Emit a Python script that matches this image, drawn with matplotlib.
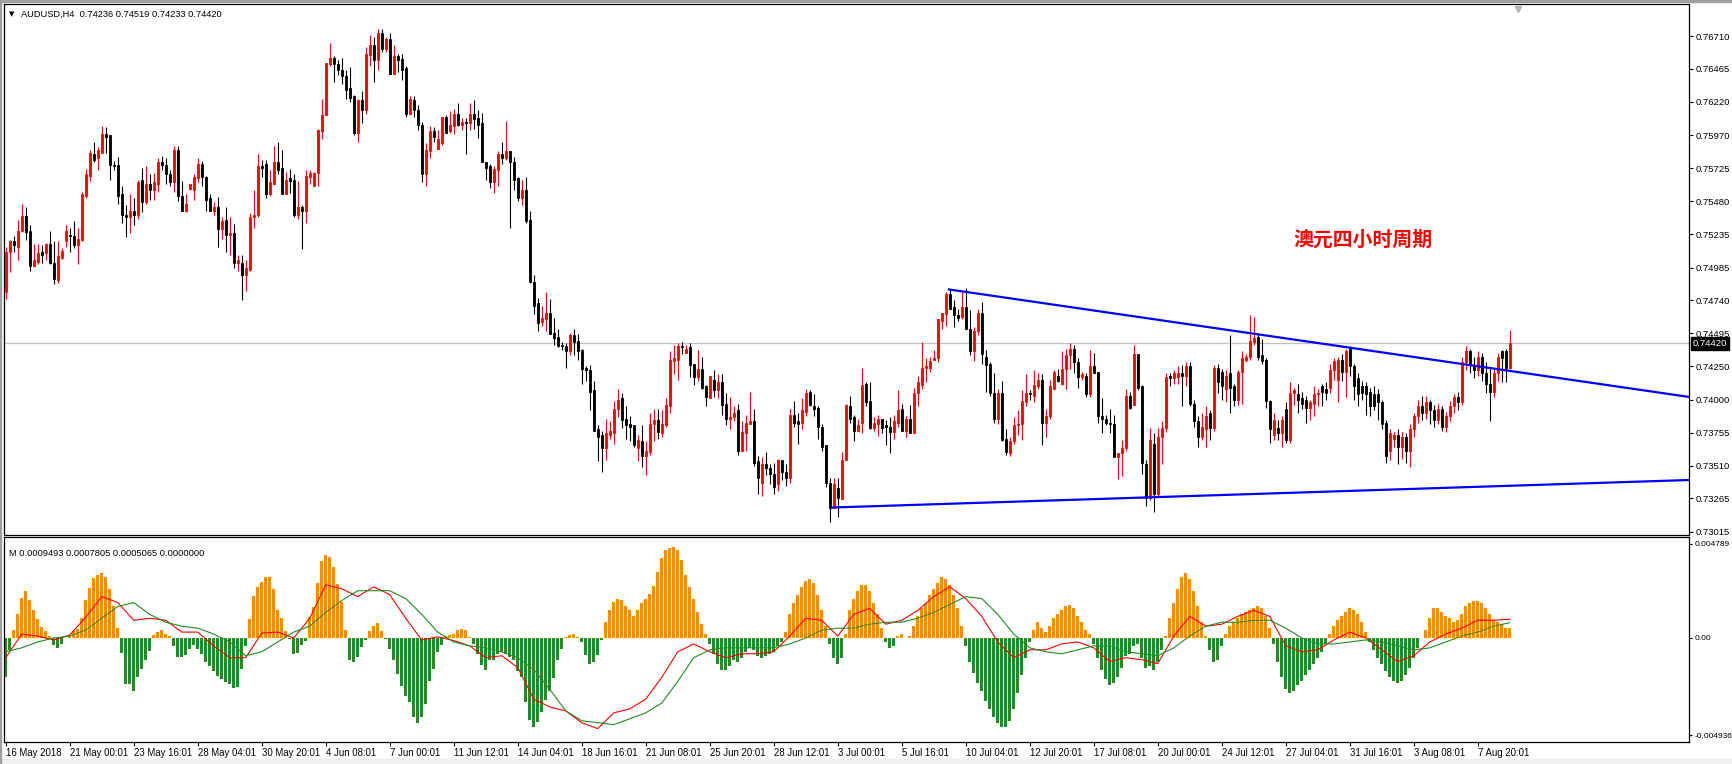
import numpy as np
import matplotlib.pyplot as plt
import matplotlib.transforms as mtransforms
from matplotlib.patches import Rectangle

plt.rcParams['font.family'] = ['Liberation Sans', 'DejaVu Sans']

symbol = "AUDUSD,H4"
last_bar_text = "0.74236 0.74519 0.74233 0.74420"
macd_header = "M 0.0009493 0.0007805 0.0005065 0.0000000"
note = "澳元四小时周期"

# AUDUSD H4 candles, prices in pips (x 0.0001)
opens = [
    7480, 7510, 7518, 7514, 7526, 7537, 7526, 7500, 7503, 7510,
    7509, 7516, 7502, 7489, 7506, 7518, 7523, 7522, 7515, 7519,
    7552, 7567, 7583, 7580, 7584, 7598, 7597, 7575, 7575, 7553,
    7538, 7536, 7541, 7538, 7564, 7547, 7561, 7556, 7561, 7577,
    7575, 7568, 7562, 7586, 7552, 7541, 7557, 7556, 7565, 7576,
    7566, 7550, 7541, 7544, 7527, 7534, 7523, 7524, 7502, 7502,
    7493, 7497, 7536, 7538, 7574, 7576, 7553, 7561, 7577, 7573,
    7553, 7565, 7564, 7538, 7544, 7541, 7566, 7559, 7569, 7600,
    7612, 7650, 7655, 7650, 7646, 7641, 7632, 7626, 7599, 7623,
    7616, 7657, 7664, 7653, 7673, 7661, 7669, 7643, 7656, 7654,
    7647, 7613, 7623, 7616, 7605, 7568, 7585, 7600, 7587, 7591,
    7611, 7600, 7604, 7613, 7605, 7607, 7606, 7613, 7610, 7606,
    7577, 7574, 7562, 7571, 7583, 7580, 7585, 7577, 7565, 7550,
    7556, 7534, 7488, 7472, 7458, 7460, 7465, 7450, 7447, 7441,
    7440, 7436, 7448, 7444, 7437, 7424, 7422, 7407, 7378, 7374,
    7364, 7374, 7375, 7393, 7401, 7386, 7382, 7381, 7364, 7369,
    7358, 7361, 7382, 7385, 7375, 7381, 7395, 7429, 7430, 7440,
    7435, 7439, 7427, 7417, 7423, 7410, 7401, 7415, 7407, 7413,
    7397, 7386, 7387, 7392, 7362, 7375, 7382, 7384, 7354, 7338,
    7352, 7349, 7345, 7337, 7355, 7346, 7342, 7389, 7384, 7383,
    7391, 7406, 7395, 7394, 7380, 7366, 7338, 7319, 7334, 7326,
    7355, 7395, 7387, 7377, 7383, 7412, 7399, 7379, 7382, 7386,
    7381, 7380, 7376, 7383, 7393, 7377, 7386, 7375, 7405, 7411,
    7424, 7424, 7430, 7431, 7459, 7464, 7479, 7469, 7463, 7462,
    7469, 7453, 7436, 7451, 7465, 7432, 7427, 7405, 7386, 7405,
    7371, 7360, 7369, 7381, 7382, 7398, 7405, 7403, 7410, 7415,
    7383, 7388, 7408, 7418, 7412, 7423, 7433, 7438, 7428, 7417,
    7418, 7404, 7425, 7421, 7388, 7386, 7383, 7382, 7357, 7360,
    7364, 7403, 7396, 7434, 7410, 7352, 7327, 7367, 7330, 7372,
    7379, 7418, 7416, 7417, 7420, 7418, 7425, 7397, 7384, 7372,
    7378, 7390, 7379, 7424, 7421, 7408, 7420, 7410, 7400, 7421,
    7430, 7432, 7443, 7447, 7433, 7430, 7399, 7374, 7379, 7375,
    7393, 7370, 7405, 7404, 7401, 7400, 7394, 7397, 7404, 7410,
    7408, 7409, 7422, 7415, 7430, 7421, 7438, 7425, 7416, 7410,
    7410, 7406, 7404, 7404, 7398, 7383, 7362, 7371, 7374, 7365,
    7372, 7362, 7378, 7388, 7395, 7390, 7398, 7392, 7385, 7393,
    7380, 7388, 7395, 7402, 7398, 7428, 7436, 7426, 7422, 7432,
    7420, 7412, 7406, 7420, 7436, 7436, 7424,
]
highs = [
    7514, 7519, 7522, 7534, 7546, 7544, 7530, 7516, 7516, 7515,
    7517, 7526, 7518, 7518, 7513, 7530, 7528, 7533, 7528, 7555,
    7572, 7586, 7592, 7588, 7604, 7603, 7597, 7578, 7581, 7559,
    7545, 7553, 7550, 7564, 7573, 7574, 7568, 7569, 7580, 7582,
    7580, 7571, 7589, 7589, 7563, 7553, 7561, 7568, 7580, 7578,
    7567, 7553, 7547, 7551, 7536, 7544, 7536, 7531, 7508, 7508,
    7504, 7539, 7556, 7583, 7579, 7579, 7571, 7589, 7592, 7586,
    7570, 7572, 7568, 7563, 7545, 7571, 7571, 7570, 7602, 7624,
    7651, 7666, 7656, 7653, 7655, 7646, 7648, 7627, 7624, 7630,
    7663, 7672, 7670, 7676, 7676, 7670, 7673, 7664, 7658, 7658,
    7649, 7626, 7626, 7620, 7607, 7591, 7604, 7603, 7601, 7611,
    7612, 7615, 7617, 7621, 7610, 7610, 7621, 7623, 7616, 7614,
    7577, 7576, 7574, 7585, 7592, 7608, 7585, 7581, 7566, 7564,
    7566, 7541, 7493, 7476, 7470, 7480, 7475, 7461, 7453, 7443,
    7442, 7450, 7453, 7449, 7438, 7425, 7426, 7414, 7381, 7377,
    7386, 7384, 7399, 7408, 7405, 7395, 7388, 7381, 7374, 7381,
    7369, 7390, 7393, 7393, 7392, 7401, 7436, 7441, 7442, 7443,
    7441, 7442, 7427, 7437, 7432, 7411, 7418, 7422, 7419, 7419,
    7405, 7402, 7395, 7397, 7384, 7389, 7406, 7393, 7358, 7357,
    7361, 7352, 7353, 7356, 7355, 7352, 7393, 7399, 7390, 7401,
    7408, 7407, 7404, 7395, 7382, 7366, 7342, 7342, 7342, 7361,
    7397, 7403, 7389, 7386, 7424, 7413, 7413, 7387, 7389, 7386,
    7385, 7387, 7389, 7407, 7397, 7388, 7396, 7409, 7418, 7443,
    7431, 7432, 7437, 7460, 7465, 7480, 7482, 7474, 7468, 7481,
    7483, 7467, 7454, 7468, 7473, 7437, 7428, 7420, 7408, 7414,
    7378, 7372, 7387, 7392, 7407, 7419, 7407, 7422, 7420, 7419,
    7393, 7415, 7422, 7423, 7436, 7438, 7442, 7441, 7431, 7421,
    7420, 7437, 7435, 7421, 7401, 7389, 7393, 7389, 7360, 7370,
    7408, 7406, 7441, 7434, 7411, 7355, 7379, 7375, 7379, 7384,
    7420, 7420, 7422, 7425, 7426, 7428, 7428, 7400, 7388, 7390,
    7395, 7392, 7426, 7427, 7423, 7422, 7448, 7412, 7422, 7436,
    7434, 7463, 7462, 7449, 7445, 7431, 7400, 7390, 7385, 7388,
    7398, 7413, 7409, 7412, 7406, 7403, 7400, 7410, 7408, 7412,
    7413, 7427, 7431, 7432, 7434, 7438, 7440, 7427, 7420, 7414,
    7413, 7409, 7410, 7408, 7400, 7385, 7378, 7376, 7378, 7376,
    7375, 7382, 7390, 7400, 7403, 7403, 7400, 7396, 7397, 7395,
    7391, 7399, 7404, 7406, 7432, 7440, 7438, 7432, 7436, 7435,
    7428, 7424, 7424, 7435, 7437, 7438, 7452,
]
lows = [
    7475, 7495, 7510, 7504, 7525, 7519, 7496, 7500, 7501, 7502,
    7504, 7501, 7486, 7487, 7505, 7514, 7510, 7513, 7501, 7518,
    7550, 7563, 7577, 7571, 7584, 7584, 7564, 7571, 7546, 7532,
    7521, 7524, 7530, 7535, 7540, 7546, 7549, 7549, 7555, 7571,
    7561, 7559, 7555, 7548, 7541, 7540, 7556, 7549, 7562, 7559,
    7541, 7541, 7538, 7514, 7520, 7510, 7508, 7498, 7496, 7474,
    7481, 7496, 7528, 7536, 7566, 7550, 7552, 7561, 7568, 7553,
    7553, 7554, 7536, 7535, 7512, 7532, 7561, 7559, 7559, 7594,
    7612, 7649, 7637, 7642, 7635, 7624, 7622, 7597, 7592, 7606,
    7613, 7649, 7637, 7646, 7659, 7659, 7643, 7643, 7644, 7638,
    7611, 7613, 7611, 7601, 7562, 7559, 7580, 7592, 7587, 7590,
    7599, 7599, 7598, 7604, 7601, 7583, 7601, 7602, 7595, 7577,
    7564, 7558, 7554, 7559, 7576, 7579, 7528, 7556, 7548, 7545,
    7532, 7487, 7464, 7451, 7455, 7451, 7449, 7441, 7439, 7437,
    7424, 7433, 7433, 7430, 7412, 7414, 7392, 7377, 7354, 7346,
    7355, 7371, 7367, 7387, 7379, 7371, 7369, 7365, 7354, 7350,
    7344, 7359, 7369, 7371, 7372, 7380, 7390, 7419, 7415, 7434,
    7435, 7417, 7411, 7414, 7408, 7395, 7401, 7402, 7401, 7389,
    7381, 7378, 7384, 7359, 7362, 7362, 7382, 7351, 7330, 7328,
    7344, 7337, 7330, 7332, 7340, 7336, 7338, 7380, 7367, 7378,
    7388, 7395, 7388, 7371, 7362, 7335, 7309, 7319, 7313, 7326,
    7355, 7383, 7369, 7377, 7375, 7395, 7378, 7377, 7373, 7375,
    7366, 7360, 7371, 7380, 7377, 7372, 7375, 7375, 7395, 7408,
    7413, 7421, 7430, 7428, 7453, 7455, 7468, 7454, 7459, 7460,
    7453, 7433, 7429, 7448, 7427, 7406, 7403, 7383, 7382, 7369,
    7359, 7358, 7367, 7374, 7370, 7395, 7400, 7398, 7408, 7366,
    7372, 7386, 7408, 7413, 7411, 7408, 7423, 7420, 7409, 7415,
    7402, 7402, 7420, 7383, 7375, 7381, 7375, 7357, 7341, 7343,
    7362, 7393, 7396, 7407, 7345, 7321, 7325, 7316, 7328, 7352,
    7376, 7410, 7412, 7412, 7395, 7410, 7395, 7380, 7365, 7370,
    7365, 7370, 7377, 7405, 7400, 7398, 7390, 7395, 7396, 7397,
    7428, 7430, 7441, 7430, 7427, 7394, 7368, 7370, 7370, 7365,
    7368, 7368, 7396, 7390, 7393, 7383, 7385, 7388, 7395, 7395,
    7400, 7405, 7415, 7398, 7414, 7402, 7418, 7400, 7395, 7400,
    7389, 7388, 7392, 7385, 7378, 7353, 7355, 7365, 7352, 7356,
    7353, 7350, 7372, 7383, 7385, 7386, 7382, 7380, 7382, 7377,
    7376, 7384, 7390, 7392, 7396, 7422, 7420, 7416, 7418, 7414,
    7405, 7384, 7402, 7414, 7413, 7413, 7423,
]
closes = [
    7510, 7518, 7515, 7526, 7537, 7525, 7500, 7504, 7509, 7508,
    7516, 7502, 7490, 7507, 7511, 7526, 7522, 7515, 7520, 7553,
    7568, 7584, 7579, 7586, 7598, 7596, 7575, 7574, 7552, 7538,
    7536, 7541, 7538, 7562, 7547, 7561, 7556, 7562, 7577, 7575,
    7568, 7562, 7586, 7552, 7541, 7546, 7561, 7566, 7576, 7566,
    7549, 7541, 7544, 7527, 7533, 7523, 7524, 7502, 7504, 7493,
    7498, 7536, 7538, 7574, 7573, 7553, 7562, 7577, 7571, 7553,
    7564, 7563, 7538, 7544, 7541, 7567, 7569, 7569, 7601, 7612,
    7651, 7655, 7650, 7646, 7641, 7631, 7625, 7599, 7623, 7616,
    7658, 7664, 7653, 7673, 7661, 7669, 7643, 7656, 7653, 7646,
    7613, 7624, 7616, 7605, 7568, 7586, 7600, 7596, 7594, 7611,
    7599, 7605, 7613, 7605, 7607, 7606, 7613, 7609, 7605, 7577,
    7573, 7562, 7572, 7583, 7580, 7585, 7577, 7564, 7550, 7556,
    7533, 7488, 7470, 7457, 7461, 7465, 7449, 7446, 7440, 7440,
    7436, 7448, 7443, 7436, 7423, 7422, 7406, 7377, 7372, 7364,
    7375, 7377, 7393, 7400, 7385, 7381, 7380, 7366, 7370, 7358,
    7362, 7382, 7385, 7376, 7382, 7396, 7430, 7431, 7440, 7439,
    7438, 7426, 7417, 7423, 7409, 7402, 7418, 7407, 7413, 7396,
    7386, 7387, 7390, 7362, 7376, 7383, 7384, 7353, 7342, 7352,
    7349, 7345, 7335, 7355, 7346, 7342, 7389, 7383, 7382, 7392,
    7405, 7396, 7393, 7380, 7365, 7338, 7319, 7337, 7327, 7355,
    7396, 7386, 7377, 7381, 7411, 7398, 7379, 7383, 7386, 7379,
    7380, 7376, 7384, 7392, 7377, 7386, 7375, 7405, 7413, 7424,
    7425, 7429, 7431, 7460, 7465, 7479, 7468, 7463, 7461, 7469,
    7453, 7436, 7451, 7465, 7434, 7426, 7405, 7386, 7405, 7370,
    7361, 7369, 7381, 7382, 7399, 7405, 7404, 7411, 7415, 7383,
    7388, 7410, 7421, 7414, 7423, 7433, 7438, 7428, 7417, 7419,
    7404, 7425, 7420, 7388, 7386, 7383, 7382, 7357, 7360, 7364,
    7403, 7394, 7434, 7409, 7353, 7327, 7370, 7330, 7372, 7379,
    7417, 7416, 7420, 7420, 7418, 7425, 7397, 7384, 7372, 7380,
    7388, 7379, 7424, 7413, 7410, 7418, 7409, 7400, 7421, 7431,
    7432, 7444, 7446, 7432, 7429, 7399, 7378, 7385, 7375, 7385,
    7370, 7405, 7407, 7400, 7397, 7394, 7398, 7404, 7405, 7406,
    7405, 7422, 7429, 7430, 7421, 7436, 7425, 7410, 7404, 7405,
    7404, 7395, 7395, 7398, 7382, 7358, 7375, 7374, 7365, 7372,
    7362, 7378, 7388, 7395, 7390, 7398, 7392, 7385, 7393, 7380,
    7388, 7395, 7402, 7398, 7428, 7436, 7426, 7422, 7432, 7420,
    7412, 7406, 7420, 7432, 7431, 7424, 7442,
]

# MACD histogram per bar (x 0.0001)
macd_hist = [
    -20, -6, 3.9, 12.4, 20.5, 23.8, 19.2, 14.4, 9.5, 5.4,
    3.4, 0.8, -3.7, -5.1, -2.9, 0.2, 1.4, 3.4, 4.6, 10,
    19.5, 25.3, 30.6, 31.9, 32.8, 31.1, 25.1, 16.1, 5.3, -7.6,
    -23.3, -23.6, -26.7, -19.9, -15.6, -11, -6.6, 1.4, 2.9, 3.9,
    2.2, 0.8, -4.2, -9.7, -9.7, -8.8, -5.4, -3.7, -5.8, -8,
    -12.2, -14.3, -16.8, -19.5, -20.7, -22.1, -23.3, -25.3, -25, -15.6,
    -4.2, 9.8, 21.2, 26, 28.5, 31.1, 31.1, 25.1, 14.1, 10.4,
    3.4, -0.7, -8, -7.6, -3.7, -1.5, 10.7, 15.8, 27.7, 39.2,
    42.1, 40.9, 36.2, 27.3, 18.3, 3.9, -11.4, -12.2, -9.7, -4.6,
    -0.8, 3.4, 5.9, 7.6, 3.4, -0.7, -5.4, -11.4, -18.5, -24.4,
    -29.2, -32.6, -39.9, -43.3, -40.2, -33.4, -21.6, -15.6, -7.1, -3.7,
    0.8, 1.4, 2.2, 3.9, 4.8, 3.9, 0.5, -2.9, -8, -13.9,
    -16, -11.4, -11.4, -8, -7.1, -8, -9.7, -11.4, -16.5, -19.9,
    -32.6, -41.6, -45.3, -42.8, -37.7, -31.7, -26.7, -20.2, -11.4, -5.4,
    0.5, 1.4, 1.9, 0.5, -2, -8.8, -13.4, -12.2, -8.8, -1.2,
    8.1, 14.4, 18.3, 19.7, 19.2, 16.1, 14.1, 11, 14.1, 17.8,
    20, 22.2, 26.5, 33.6, 40.4, 44.7, 45.5, 46.4, 44.7, 39.6,
    31.9, 26, 20, 13, 7, 2, -3, -8, -13, -16,
    -16, -14, -11, -12, -10, -7, -5, -6, -9, -10,
    -9, -8, -7, -4, -2, 3, 12, 18, 22, 26,
    29, 30, 28, 22, 14, 6, -3, -10, -13, -10,
    2, 14, 20, 24, 27, 27, 24, 18, 12, 5,
    -2, -5, -4, 1, 2, 0, 1, 6, 11, 15,
    18, 22, 25, 28, 31, 30, 27, 22, 15, 6,
    -4, -12, -18, -23, -27, -32, -36, -40, -43, -45,
    -45, -42, -36, -28, -19, -10, -2, 4, 8, 5,
    3, 6, 10, 12, 14, 16, 17, 15, 11, 8,
    4, 2, -3, -10, -16, -21, -24, -23, -20, -15,
    -9, -8, -4, -3, -10, -15, -14, -16, -12, -6,
    1, 10, 18, 25, 31, 33, 30, 24, 16, 8,
    1, -6, -12, -11, -4, 2, 6, 8, 10, 12,
    13, 14, 15, 16, 15, 11, 5, -3, -12, -20,
    -26, -28, -27, -24, -22, -19, -16, -13, -10, -7,
    -3, 2, 6, 9, 11, 13, 15, 14, 12, 8,
    3, -2, -6, -10, -13, -17, -20, -22, -23, -22,
    -19, -15, -10, -5, 0, 4, 10, 15, 15, 13,
    11, 10, 8, 9, 12, 16, 18, 19, 19, 18,
    15, 12, 9, 8, 7, 5, 5.1,
]
# MACD main (red) and signal (green), every 4th bar (x 0.0001)
macd_main = [
    -10, 2, 1, -1, 1.5, 10.5, 21, 18, 9, 10,
    9, 3, 3, -4, -10, -10, 2.5, 3, 0, 10,
    27, 25, 21, 26, 22, 10, -1, 0.6, -1.3, -4,
    -10, -9, -15, -31, -35, -37, -43, -46, -38, -36,
    -31, -20, -7, -3, -7, -10, -8, -8, -7, 1,
    10, 9, 1, 12, 15, 7, 9, 14, 21, 26,
    20, 11, -2, -10, -6, -6, -3, -2, -5, -12,
    -10, -11, -13, 1, 11, 6, 7, 11, 14, 11,
    -4, -7, -6, -1, 3, 0, -6, -12, -9, -2,
    2, 5, 9, 9, 9.5,
]
macd_signal = [
    -7, -5, -2, 0, 1, 4, 10, 16, 18, 12,
    8, 6, 5, 2, -2, -9, -7, -2, 3, 6,
    13, 19, 24, 24, 24, 20, 12, 3, -2, -4,
    -5, -7, -10, -16, -26, -37, -42, -43, -44, -41,
    -38, -33, -22, -10, -6, -5, -5, -5, -5, -3,
    0, 4, 5, 5, 7, 8, 8, 10, 13, 17,
    21, 20, 12, 2, -5, -7, -8, -6, -4, -4,
    -7, -8, -9, -5, 1, 6, 8, 8, 9, 9,
    5, 0, -3, -3, -2, -1, -2, -4, -6, -5,
    -2, 1, 3, 6, 7.8,
]

time_labels = [
    "16 May 2018", "21 May 00:01", "23 May 16:01", "28 May 04:01", "30 May 20:01",
    "4 Jun 08:01", "7 Jun 00:01", "11 Jun 12:01", "14 Jun 04:01", "18 Jun 16:01",
    "21 Jun 08:01", "25 Jun 20:01", "28 Jun 12:01", "3 Jul 00:01", "5 Jul 16:01",
    "10 Jul 04:01", "12 Jul 20:01", "17 Jul 08:01", "20 Jul 00:01", "24 Jul 12:01",
    "27 Jul 04:01", "31 Jul 16:01", "3 Aug 08:01", "7 Aug 20:01",
]
price_ticks = [0.76710, 0.76465, 0.76220, 0.75970, 0.75725, 0.75480, 0.75235, 0.74985,
               0.74740, 0.74495, 0.74250, 0.74000, 0.73755, 0.73510, 0.73265, 0.73015]
macd_ticks = [0.004789, 0.0, -0.004936]
macd_tick_labels = ["0.004789", "0.00", "-0.004936"]
last_price = 0.74420

# trend lines: anchor bar index / price, running to the right edge
upper_trend_bars = [235.8, 420.8]
upper_trend_prices = [0.74822, 0.74021]
lower_trend_bars = [206.6, 420.8]
lower_trend_prices = [0.73197, 0.73402]

W, H = 1733, 764
fig = plt.figure(figsize=(W / 100, H / 100), dpi=100, facecolor='white')


def px_box(x0, y0, x1, y1):
    return [x0 / W, 1 - y1 / H, (x1 - x0) / W, (y1 - y0) / H]


ax = fig.add_axes(px_box(4, 4, 1689, 534.5))
axm = fig.add_axes(px_box(4, 536.5, 1689, 742), sharex=ax)

o = np.array(opens) / 1e4
h = np.array(highs) / 1e4
l = np.array(lows) / 1e4
c = np.array(closes) / 1e4
x = np.arange(len(c))
col = np.where(c > o, '#FF0000', '#000000')

ax.axhline(last_price, color='#C0C0C0', lw=0.9, zorder=1)
ax.vlines(x, l, h, colors=col, lw=0.8, zorder=2)
ax.bar(x, np.abs(c - o), bottom=np.minimum(o, c), width=0.55, color=col,
       edgecolor=col, lw=0.6, zorder=3)
ax.plot(upper_trend_bars, upper_trend_prices, color='#0000FF', lw=1.6, zorder=4)
ax.plot(lower_trend_bars, lower_trend_prices, color='#0000FF', lw=1.6, zorder=4)

ax.set_xlim(-0.43, 420.8)
ax.set_ylim(0.72996, 0.76949)
ax.yaxis.tick_right()
ax.set_yticks(price_ticks)
ax.set_yticklabels([f"{v:.5f}" for v in price_ticks])
ax.tick_params(axis='y', direction='out', length=3, width=0.8, pad=2, labelsize=6.8)
ax.tick_params(axis='x', bottom=False, labelbottom=False)

ax.text(339.3, 0.75197, note, color='#FF0000', fontsize=14.3, fontweight='bold',
        family=['Noto Sans CJK SC', 'DejaVu Sans'], ha='center', va='center')

trans = mtransforms.offset_copy(
    mtransforms.blended_transform_factory(ax.transAxes, ax.transData),
    fig=fig, x=2.6, y=0, units='points')
ax.text(1.0, last_price, f"{last_price:.5f}", transform=trans, color='white',
        fontsize=6.8, ha='left', va='center', clip_on=False, zorder=10,
        bbox=dict(boxstyle='square,pad=0.22', fc='black', ec='black'))

mark_trans = mtransforms.blended_transform_factory(ax.transData, ax.transAxes)
ax.plot([378], [0.99], marker='v', ms=5, color='#B4B4B4', transform=mark_trans,
        clip_on=False, zorder=5)

# MACD panel
hist = np.array(macd_hist) * 1e-4
axm.bar(x, hist, width=0.68, color=np.where(hist > 0, '#FF8C00', '#228B22'), zorder=2)
xl = np.arange(0, len(c), 4)
axm.plot(xl, np.array(macd_main) * 1e-4, color='#FF0000', lw=0.8, zorder=3)
axm.plot(xl, np.array(macd_signal) * 1e-4, color='#228B22', lw=0.8, zorder=3)
axm.set_ylim(-0.005279, 0.005152)
axm.yaxis.tick_right()
axm.set_yticks(macd_ticks)
axm.set_yticklabels(macd_tick_labels)
axm.tick_params(axis='y', direction='out', length=2.5, width=0.8, pad=1.2, labelsize=6.0)
axm.set_xticks(np.arange(len(time_labels)) * 16)
axm.set_xticklabels(time_labels)
axm.tick_params(axis='x', direction='out', length=3, width=0.8, pad=1.5, labelsize=6.9)
for lab in axm.get_xticklabels():
    lab.set_horizontalalignment('left')

for a in (ax, axm):
    for s in a.spines.values():
        s.set_linewidth(0.9)
        s.set_color('black')

fig.text(11.5 / W, 1 - 14.5 / H, '▼', fontsize=5, ha='center', va='center', family='DejaVu Sans')
fig.text(21 / W, 1 - 14.5 / H, f"{symbol}  {last_bar_text}", fontsize=6.7, ha='left', va='center')
fig.text(9 / W, 1 - 553.5 / H, macd_header, fontsize=6.7, ha='left', va='center')

# window frame
fig.patches.append(Rectangle((0, 0), 1, 5 / H, transform=fig.transFigure, color='#F0F0F0', zorder=0))
fig.patches.append(Rectangle((0, 1 - 1.5 / H), 1, 1.5 / H, transform=fig.transFigure, color='#A0A0A0', zorder=0))
fig.patches.append(Rectangle((0, 0), 1.5 / W, 1, transform=fig.transFigure, color='#A0A0A0', zorder=0))

fig.savefig('out.png', dpi=100, facecolor='white')
